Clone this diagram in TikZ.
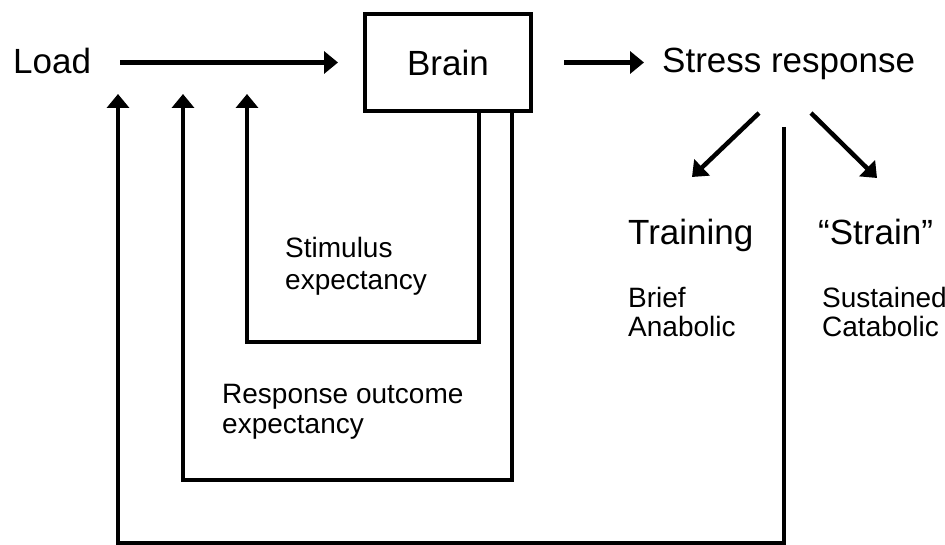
\documentclass[tikz,border=0pt]{standalone}
\usepackage{fontspec}
\setmainfont{Liberation Sans}
\usetikzlibrary{arrows.meta}
\begin{document}
\begin{tikzpicture}[x=1pt,y=-1pt,
  big/.style={font=\fontsize{35}{42}\selectfont, inner sep=0pt, anchor=base west},
  small/.style={font=\fontsize{28}{#1}\selectfont, inner sep=0pt, anchor=base west, align=left},
  small/.default=30,
  ln/.style={line width=4.5pt},
  arr/.style={ln, -{Triangle[length=14pt,width=22pt]}}]
\useasboundingbox (0,0) rectangle (945,545);

\node[big] (load) at (13,74) {Load};
\node[draw, line width=4pt, minimum width=166pt, minimum height=97pt, inner sep=0pt,
      font=\fontsize{35}{42}\selectfont] (brain) at (448,62.5) {Brain};
\node[big] (stress) at (662,73) {Stress response};

\node[big] (training) at (628,245) {Training};
\node[big] (strain) at (818,245) {“Strain”};
\node[small=29] (brief) at (628,337) {Brief\\Anabolic};
\node[small=29] (sust) at (822,337) {Sustained\\Catabolic};

\node[small=32] (stim) at (285,290) {Stimulus\\expectancy};
\node[small=30] (resp) at (222,433) {Response outcome\\expectancy};

% forward arrows
\draw[arr, shorten <=29pt, shorten >=25pt] (load.east |- brain.west) -- (brain.west);
\draw[arr, shorten <=31pt, shorten >=18pt] (brain.east) -- (stress.west |- brain.east);

% branching arrows
\coordinate (lstart) at (759,113);
\coordinate (ltip) at (692,177);
\coordinate (rstart) at (811,113);
\coordinate (rtip) at (877,178);
\draw[arr] (lstart) -- (ltip);
\draw[arr] (rstart) -- (rtip);

% feedback loops
\coordinate (t1) at (247,94);
\coordinate (t2) at (183,94);
\coordinate (t3) at (118,94);
\coordinate (ostart) at (784,127);
\draw[arr] ([xshift=31pt]brain.south) -- ++(0,229) -| (t1);
\draw[arr] ([xshift=64pt]brain.south) -- ++(0,367) -| (t2);
\draw[arr] (ostart) -- ++(0,416) -| (t3);
\end{tikzpicture}
\end{document}
